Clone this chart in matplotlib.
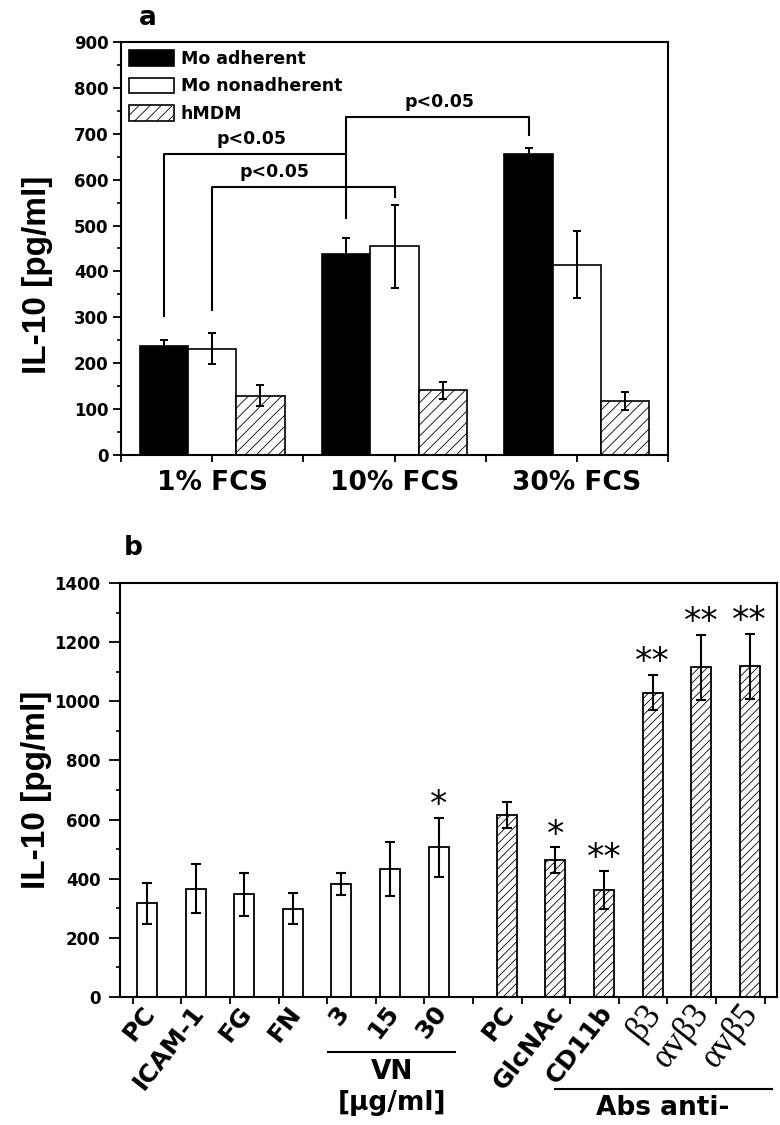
import numpy as np
import matplotlib
matplotlib.use("Agg")
import matplotlib.pyplot as plt
from matplotlib.patches import Patch
from matplotlib import transforms

plt.rcParams['font.family'] = ['DejaVu Sans']
plt.rcParams['font.weight'] = 'bold'
plt.rcParams['hatch.linewidth'] = 0.6
plt.rcParams['axes.linewidth'] = 1.5

# ---------------- data: panel a ----------------
groups_a = ['1% FCS', '10% FCS', '30% FCS']
series_a = ['Mo adherent', 'Mo nonadherent', 'hMDM']
mo_adherent = [238, 439, 655]
mo_adherent_err = [12, 34, 13]
mo_nonadherent = [232, 455, 415]
mo_nonadherent_err = [33, 90, 73]
hmdm = [129, 141, 118]
hmdm_err = [23, 19, 20]
pval_label = 'p<0.05'

# ---------------- data: panel b ----------------
labels_b = ['PC', 'ICAM-1', 'FG', 'FN', '3', '15', '30',
            'PC', 'GlcNAc', 'CD11b', 'β3', 'αvβ3', 'αvβ5']
values_b = [317, 366, 347, 299, 382, 432, 506, 615, 463, 362, 1029, 1115, 1119]
errors_b = [70, 83, 74, 53, 37, 92, 100, 43, 43, 65, 60, 110, 110]
stars_b = ['', '', '', '', '', '', '*', '', '*', '**', '**', '**', '**']
hatched_b = [False] * 7 + [True] * 6
greek_b = [False] * 10 + [True] * 3

fig = plt.figure(figsize=(7.8, 11.25), dpi=100)

# ================= panel a =================
axa = fig.add_axes([121/780, 1-455/1125, (668-121)/780, (455-42)/1125])
xa = np.arange(1, len(groups_a) + 1)
w = 0.265
bar_kw = dict(width=w, edgecolor='black', linewidth=1.2)
axa.bar(xa - w, mo_adherent, color='black', **bar_kw)
axa.bar(xa, mo_nonadherent, color='white', **bar_kw)
axa.bar(xa + w, hmdm, color='white', hatch='///', **bar_kw)
eb_kw = dict(fmt='none', ecolor='black', elinewidth=1.4, capsize=3, capthick=1.4)
axa.errorbar(xa - w, mo_adherent, yerr=mo_adherent_err, **eb_kw)
axa.errorbar(xa, mo_nonadherent, yerr=mo_nonadherent_err, **eb_kw)
axa.errorbar(xa + w, hmdm, yerr=hmdm_err, **eb_kw)

axa.set_xlim(0.5, 3.5)
axa.set_ylim(0, 900)
axa.set_yticks(np.arange(0, 901, 100))
axa.set_yticks(np.arange(50, 900, 100), minor=True)
axa.set_xticks(xa)
axa.set_xticks(np.arange(0.5, 3.6, 1), minor=True)
axa.set_xticklabels(groups_a, fontsize=19, fontweight='bold')
for lab in axa.get_yticklabels():
    lab.set_fontsize(12); lab.set_fontweight('bold')
axa.tick_params(axis='y', which='major', direction='out', length=5.5, width=1.3, pad=3.5)
axa.tick_params(axis='y', which='minor', direction='out', length=3, width=1.2)
axa.tick_params(axis='x', which='both', direction='out', length=5, width=1.3, pad=6)
axa.set_ylabel('IL-10 [pg/ml]', fontsize=24, fontweight='bold', family='Liberation Sans')
axa.yaxis.set_label_coords(-0.124, 0.437)

# brackets
lk = dict(color='black', lw=1.5)
axa.plot([1 - w, 1 - w, 2 - w, 2 - w], [303, 656, 656, 516], **lk)
axa.plot([2 - w, 2 - w, 3 - w, 3 - w], [656, 737, 737, 697], **lk)
axa.plot([1, 1, 2, 2], [315, 585, 585, 563], **lk)
for (bx, by) in [(1.213, 656), (1.344, 585), (2.246, 737)]:
    axa.annotate(pval_label, xy=(bx, by), xytext=(0, 4), textcoords='offset points',
                 ha='center', va='bottom', fontsize=12.5, fontweight='bold')

handles = [Patch(facecolor='black', edgecolor='black', linewidth=1.2),
           Patch(facecolor='white', edgecolor='black', linewidth=1.2),
           Patch(facecolor='white', edgecolor='black', linewidth=1.2, hatch='///')]
leg = axa.legend(handles, series_a, loc='upper left', bbox_to_anchor=(0.0, 1.0),
                 frameon=False, prop=dict(size=12.5, weight='bold'),
                 handlelength=2.6, handleheight=1.0, handletextpad=0.4,
                 labelspacing=0.55, borderaxespad=0.25, borderpad=0.2)

fig.text(148/780, 1-18/1125, 'a', fontsize=19, fontweight='bold', ha='center', va='center')

# ================= panel b =================
axb = fig.add_axes([120/780, 1-997/1125, (777-120)/780, (997-583)/1125])
xb = np.concatenate([np.arange(7) + 1.0, np.arange(6) + 8.4])
wb = 0.41
for x, v, h in zip(xb, values_b, hatched_b):
    axb.bar(x, v, width=wb, color='white', edgecolor='black', linewidth=1.3,
            hatch='////' if h else None)
axb.errorbar(xb, values_b, yerr=errors_b, fmt='none', ecolor='black',
             elinewidth=1.5, capsize=3.8, capthick=1.5)
for x, v, e, s in zip(xb, values_b, errors_b, stars_b):
    if s:
        axb.annotate(s, xy=(x, v + e), xytext=(0, -3), textcoords='offset points',
                     ha='center', va='bottom', fontsize=25, fontweight='normal')

axb.set_xlim(0.444, 13.96)
axb.set_ylim(0, 1400)
axb.set_yticks(np.arange(0, 1401, 200))
axb.set_yticks(np.arange(100, 1400, 200), minor=True)
axb.set_xticks(np.arange(0.706, 13.8, 1.0))
axb.set_xticklabels([])
for lab in axb.get_yticklabels():
    lab.set_fontsize(12); lab.set_fontweight('bold')
axb.tick_params(axis='y', which='major', direction='out', length=8, width=1.3, pad=6)
axb.tick_params(axis='y', which='minor', direction='out', length=3, width=1.2)
axb.tick_params(axis='x', which='major', direction='out', length=5, width=1.3)
axb.set_ylabel('IL-10 [pg/ml]', fontsize=24, fontweight='bold', family='Liberation Sans')
axb.yaxis.set_label_coords(-0.104, 0.5)

for x, lab, g in zip(xb, labels_b, greek_b):
    kw = dict(family='Liberation Serif', fontweight='normal', fontsize=25) if g else \
        dict(fontweight='bold', fontsize=18)
    axb.annotate(lab, xy=(x, 0), xycoords=('data', 'axes fraction'),
                 xytext=(6.5, -11.5), textcoords='offset points', rotation=52,
                 rotation_mode='anchor', ha='right', va='baseline', **kw)

trb = transforms.blended_transform_factory(axb.transData, axb.transAxes)
axb.plot([4.72, 7.34], [-0.133, -0.133], color='black', lw=1.5, transform=trb, clip_on=False)
axb.plot([9.40, 13.85], [-0.222, -0.222], color='black', lw=1.5, transform=trb, clip_on=False)
axb.text(6.04, -0.181, 'VN', transform=trb, ha='center', va='center', fontsize=19, fontweight='bold')
axb.text(6.04, -0.256, '[μg/ml]', transform=trb, ha='center', va='center', fontsize=19, fontweight='bold')
axb.text(11.6, -0.268, 'Abs anti-', transform=trb, ha='center', va='center', fontsize=19, fontweight='bold')

fig.text(133/780, 1-548/1125, 'b', fontsize=19, fontweight='bold', ha='center', va='center')

fig.savefig('out.png', dpi=100)
